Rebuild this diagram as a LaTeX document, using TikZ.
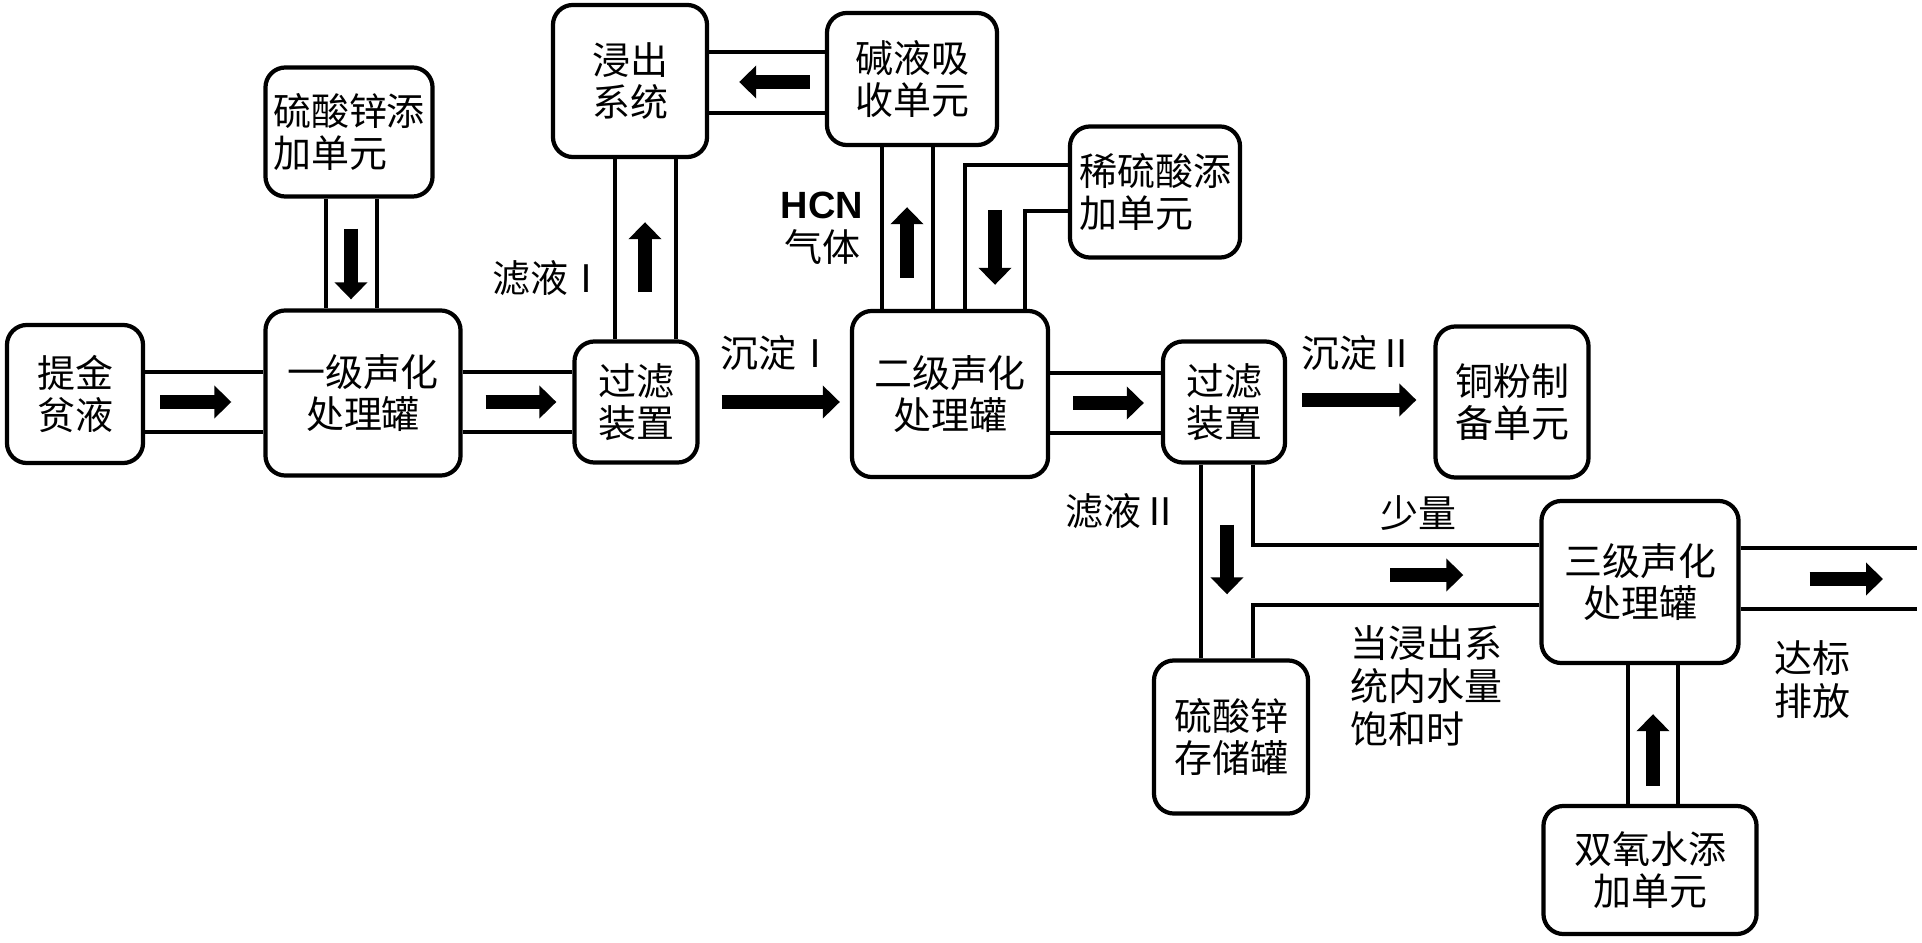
\documentclass[tikz,border=0pt]{standalone}
\usepackage{fontspec}
\setmainfont{Noto Sans CJK SC}
\newfontfamily\hcnfont{Liberation Sans}
\usetikzlibrary{arrows.meta, positioning, calc}
\tikzstyle{unit} = [rectangle, rounded corners=0.2cm, draw=black, line width=1.2pt, align=center, inner sep=0pt, font=\fontsize{10.8pt}{11.8pt}\selectfont]
\tikzstyle{note} = [align=center, inner sep=0pt, font=\fontsize{10.8pt}{12.2pt}\selectfont]
\tikzstyle{pipe} = [line width=0.9pt]
\tikzstyle{flow} = [line width=0.14cm, -{Triangle[length=0.17cm, width=0.32cm]}]

\begin{document}
\begin{tikzpicture}[x=0.01cm, y=-0.01cm]
\useasboundingbox (0,0) rectangle (1922,943);

\node (tijin) [unit, minimum width=1.36cm, minimum height=1.38cm] at (75,394) {提金\\贫液};
\node (yiji) [unit, minimum width=1.95cm, minimum height=1.65cm] at (363,393) {一级声化\\处理罐};
\node (znadd) [unit, minimum width=1.67cm, minimum height=1.29cm, align=left] at (349,132) {硫酸锌添\\加单元};
\node (filt1) [unit, minimum width=1.23cm, minimum height=1.21cm] at (636,402) {过滤\\装置};
\node (leach) [unit, minimum width=1.54cm, minimum height=1.52cm] at (630,81) {浸出\\系统};
\node (alkali) [unit, minimum width=1.70cm, minimum height=1.32cm, align=left] at (912,79) {碱液吸\\收单元};
\node (erji) [unit, minimum width=1.96cm, minimum height=1.66cm] at (950,394) {二级声化\\处理罐};
\node (acid) [unit, minimum width=1.70cm, minimum height=1.31cm, align=left] at (1155,192) {稀硫酸添\\加单元};
\node (filt2) [unit, minimum width=1.22cm, minimum height=1.21cm] at (1224,402) {过滤\\装置};
\node (copper) [unit, minimum width=1.53cm, minimum height=1.51cm] at (1512,402) {铜粉制\\备单元};
\node (znstore) [unit, minimum width=1.54cm, minimum height=1.53cm] at (1231,737) {硫酸锌\\存储罐};
\node (sanji) [unit, minimum width=1.97cm, minimum height=1.62cm] at (1640,582) {三级声化\\处理罐};
\node (h2o2) [unit, minimum width=2.13cm, minimum height=1.28cm] at (1650,870) {双氧水添\\加单元};
\coordinate (outlet) at (1917,579);

\node (filtrate1) [note] at (549,278) {滤液Ⅰ};
\node (hcn) [note] at (822,228) {{\hcnfont\bfseries HCN}\\气体};
\node (precip1) [note] at (777,353) {沉淀Ⅰ};
\node (precip2) [note] at (1358,353) {沉淀Ⅱ};
\node (filtrate2) [note] at (1122,511) {滤液Ⅱ};
\node (little) [note] at (1418,513) {少量};
\node (saturated) [note, align=left] at (1426,686) {当浸出系\\统内水量\\饱和时};
\node (discharge) [note] at (1812,680) {达标\\排放};

\draw [pipe] (tijin.east |- 0,372) -- (yiji.west |- 0,372);
\draw [pipe] (tijin.east |- 0,432) -- (yiji.west |- 0,432);
\draw [flow, shorten <=0.15cm, shorten >=0.32cm] (tijin.east |- 0,402) -- (yiji.west |- 0,402);

\draw [pipe] (326,0 |- znadd.south) -- (326,0 |- yiji.north);
\draw [pipe] (377,0 |- znadd.south) -- (377,0 |- yiji.north);
\draw [flow, shorten <=0.30cm, shorten >=0.09cm] (351,0 |- znadd.south) -- (351,0 |- yiji.north);

\draw [pipe] (yiji.east |- 0,372) -- (filt1.west |- 0,372);
\draw [pipe] (yiji.east |- 0,432) -- (filt1.west |- 0,432);
\draw [flow, shorten <=0.23cm, shorten >=0.16cm] (yiji.east |- 0,402) -- (filt1.west |- 0,402);

\draw [pipe] (615,0 |- filt1.north) -- (615,0 |- leach.south);
\draw [pipe] (676,0 |- filt1.north) -- (676,0 |- leach.south);
\draw [flow, shorten <=0.47cm, shorten >=0.63cm] (645,0 |- filt1.north) -- (645,0 |- leach.south);

\draw [pipe] (alkali.west |- 0,52) -- (leach.east |- 0,52);
\draw [pipe] (alkali.west |- 0,113) -- (leach.east |- 0,113);
\draw [flow, shorten <=0.15cm, shorten >=0.30cm] (alkali.west |- 0,82) -- (leach.east |- 0,82);

\draw [pipe] (882,0 |- erji.north) -- (882,0 |- alkali.south);
\draw [pipe] (933,0 |- erji.north) -- (933,0 |- alkali.south);
\draw [flow, shorten <=0.31cm, shorten >=0.60cm] (907,0 |- erji.north) -- (907,0 |- alkali.south);

\draw [pipe] (acid.west |- 0,165) -| (965,0 |- erji.north);
\draw [pipe] (acid.west |- 0,211) -| (1025,0 |- erji.north);
\draw [flow, shorten >=0.24cm] (995,210) -- (995,0 |- erji.north);

\draw [flow, shorten <=0.22cm, shorten >=0.10cm] (filt1.east |- 0,402) -- (erji.west |- 0,402);

\draw [pipe] (erji.east |- 0,373) -- (filt2.west |- 0,373);
\draw [pipe] (erji.east |- 0,433) -- (filt2.west |- 0,433);
\draw [flow, shorten <=0.23cm, shorten >=0.17cm] (erji.east |- 0,403) -- (filt2.west |- 0,403);

\draw [flow, shorten <=0.15cm, shorten >=0.17cm] (filt2.east |- 0,400) -- (copper.west |- 0,400);

\draw [pipe] (1201,0 |- filt2.south) -- (1201,0 |- znstore.north);
\draw [pipe] (1253,0 |- filt2.south) -- (1253,545) -- (sanji.west |- 0,545);
\draw [pipe] (sanji.west |- 0,605) -- (1253,605) -- (1253,0 |- znstore.north);
\draw [flow, shorten <=0.60cm, shorten >=0.64cm] (1227,0 |- filt2.south) -- (1227,0 |- znstore.north);
\draw [flow, shorten <=1.37cm, shorten >=0.76cm] (1253,575) -- (sanji.west |- 0,575);

\draw [pipe] (sanji.east |- 0,548) -- (outlet |- 0,548);
\draw [pipe] (sanji.east |- 0,609) -- (outlet |- 0,609);
\draw [flow, shorten <=0.69cm, shorten >=0.34cm] (sanji.east |- outlet) -- (outlet);

\draw [pipe] (1628,0 |- h2o2.north) -- (1628,0 |- sanji.south);
\draw [pipe] (1678,0 |- h2o2.north) -- (1678,0 |- sanji.south);
\draw [flow, shorten <=0.18cm, shorten >=0.49cm] (1653,0 |- h2o2.north) -- (1653,0 |- sanji.south);

\end{tikzpicture}
\end{document}
